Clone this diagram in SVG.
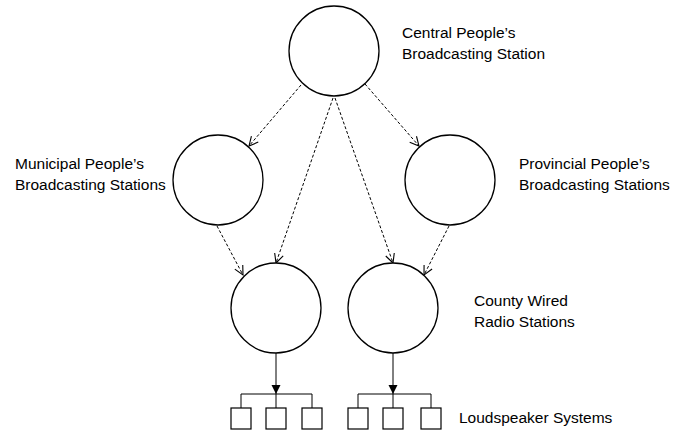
<svg xmlns="http://www.w3.org/2000/svg" width="674" height="431" viewBox="0 0 674 431">
<style>
.node{fill:#fff;stroke:#000;stroke-width:1.3}
.lbl{font-family:"Liberation Sans",Arial,sans-serif;font-size:15.5px;fill:#000}
.dash{fill:none;stroke:#000;stroke-width:1;stroke-dasharray:3,2}
.solid{fill:none;stroke:#000;stroke-width:1}
.box{fill:#fff;stroke:#000;stroke-width:1.2}
</style>
<defs>
<marker id="open" markerUnits="userSpaceOnUse" markerWidth="12" markerHeight="12" viewBox="-10 -6 12 12" refX="0" refY="0" orient="auto">
<path d="M-9,-4.5 L0,0 L-9,4.5" fill="none" stroke="#000" stroke-width="1.1"/>
</marker>
<marker id="fill" markerUnits="userSpaceOnUse" markerWidth="12" markerHeight="12" viewBox="-10 -6 12 12" refX="0" refY="0" orient="auto">
<path d="M-9,-4.5 L0,0 L-9,4.5 Z" fill="#000"/>
</marker>
</defs>
<g id="connectors">
<line class="dash" x1="301" y1="85" x2="249" y2="146" marker-end="url(#open)"/>
<line class="dash" x1="333" y1="98" x2="276" y2="263" marker-end="url(#open)"/>
<line class="dash" x1="335" y1="98" x2="393" y2="263" marker-end="url(#open)"/>
<line class="dash" x1="365" y1="84" x2="419" y2="146" marker-end="url(#open)"/>
<line class="dash" x1="217" y1="226" x2="243" y2="275" marker-end="url(#open)"/>
<line class="dash" x1="449" y1="226" x2="424" y2="275" marker-end="url(#open)"/>
<line class="solid" x1="276" y1="353" x2="276" y2="394" marker-end="url(#fill)"/>
<line class="solid" x1="393" y1="353" x2="393" y2="394" marker-end="url(#fill)"/>
<path class="solid" d="M241,408 V394 H312 V408 M276,394 V408"/>
<path class="solid" d="M358,408 V394 H431 V408 M393,394 V408"/>
</g>
<g id="central">
<circle class="node" cx="334" cy="51" r="45"/>
<text class="lbl" x="402" y="38">Central People’s</text>
<text class="lbl" x="402" y="59">Broadcasting Station</text>
</g>
<g id="municipal">
<circle class="node" cx="218" cy="180" r="45"/>
<text class="lbl" x="15" y="169">Municipal People’s</text>
<text class="lbl" x="15" y="190">Broadcasting Stations</text>
</g>
<g id="provincial">
<circle class="node" cx="450" cy="180" r="45"/>
<text class="lbl" x="519" y="169">Provincial People’s</text>
<text class="lbl" x="519" y="190">Broadcasting Stations</text>
</g>
<g id="county-left">
<circle class="node" cx="276" cy="308" r="45"/>
</g>
<g id="county-right">
<circle class="node" cx="393" cy="308" r="45"/>
<text class="lbl" x="474" y="306">County Wired</text>
<text class="lbl" x="474" y="327">Radio Stations</text>
</g>
<g id="speakers-left">
<rect class="box" x="231" y="408" width="20" height="21"/>
<rect class="box" x="266" y="408" width="20" height="21"/>
<rect class="box" x="302" y="408" width="20" height="21"/>
</g>
<g id="speakers-right">
<rect class="box" x="348" y="408" width="20" height="21"/>
<rect class="box" x="383" y="408" width="20" height="21"/>
<rect class="box" x="421" y="408" width="20" height="21"/>
<text class="lbl" x="459" y="423">Loudspeaker Systems</text>
</g>
</svg>
